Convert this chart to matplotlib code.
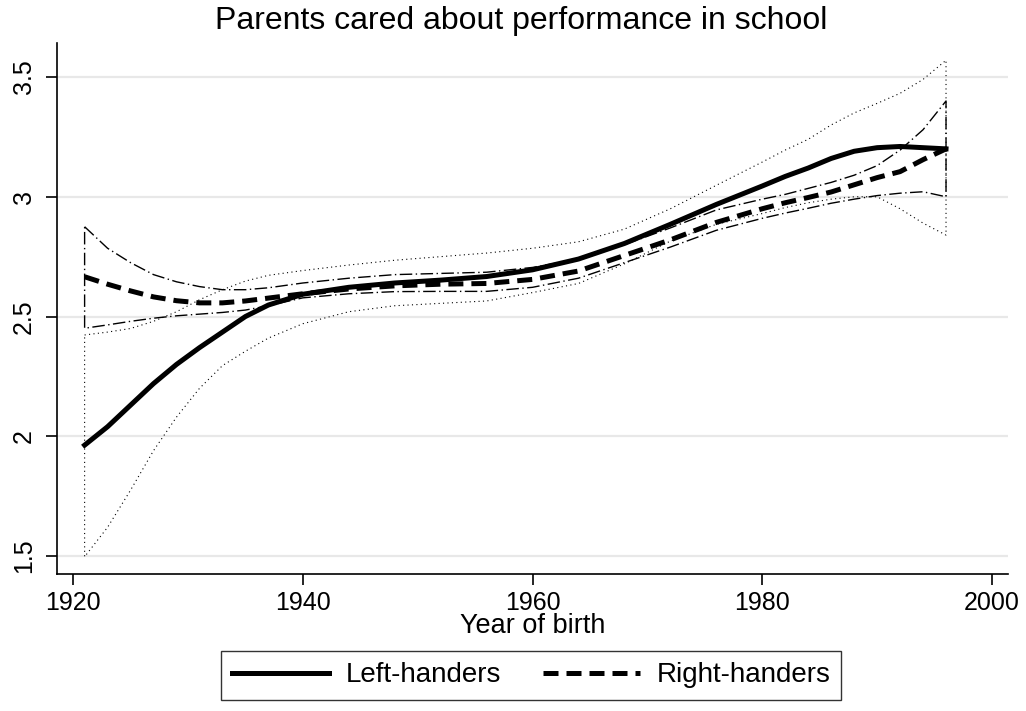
import matplotlib
matplotlib.use("Agg")
import matplotlib.pyplot as plt

plt.rcParams['font.family'] = ['Liberation Sans', 'DejaVu Sans']

# year of birth grid
years = [1921, 1923, 1925, 1927, 1929, 1931, 1933, 1935, 1937, 1940, 1944, 1948, 1952,
         1956, 1960, 1964, 1968, 1972, 1976, 1980, 1982, 1984, 1986, 1988, 1990, 1992, 1994, 1996]

# fitted means
left_mean = [1.963, 2.04, 2.13, 2.22, 2.30, 2.37, 2.435, 2.50, 2.548, 2.593, 2.622, 2.64, 2.652,
             2.667, 2.695, 2.74, 2.805, 2.885, 2.968, 3.045, 3.085, 3.12, 3.16, 3.19, 3.205, 3.21, 3.205, 3.20]
right_mean = [2.666, 2.635, 2.607, 2.582, 2.566, 2.557, 2.557, 2.565, 2.577, 2.595, 2.615, 2.628, 2.635,
              2.638, 2.655, 2.69, 2.755, 2.82, 2.893, 2.95, 2.975, 2.997, 3.02, 3.05, 3.08, 3.105, 3.155, 3.20]

# confidence bands
left_hi = [2.423, 2.435, 2.45, 2.48, 2.52, 2.57, 2.612, 2.648, 2.672, 2.692, 2.715, 2.735, 2.75,
           2.765, 2.785, 2.812, 2.865, 2.95, 3.048, 3.145, 3.195, 3.24, 3.30, 3.35, 3.39, 3.432, 3.49, 3.57]
left_lo = [1.497, 1.62, 1.775, 1.94, 2.08, 2.20, 2.295, 2.355, 2.41, 2.47, 2.52, 2.545, 2.555,
           2.565, 2.60, 2.638, 2.72, 2.815, 2.885, 2.93, 2.955, 2.975, 2.99, 3.0, 3.0, 2.95, 2.89, 2.84]
right_hi = [2.875, 2.785, 2.725, 2.675, 2.645, 2.625, 2.612, 2.612, 2.62, 2.64, 2.66, 2.675, 2.68,
            2.685, 2.705, 2.74, 2.80, 2.87, 2.945, 2.99, 3.01, 3.035, 3.06, 3.09, 3.13, 3.195, 3.28, 3.40]
right_lo = [2.451, 2.465, 2.48, 2.493, 2.503, 2.51, 2.517, 2.527, 2.545, 2.578, 2.595, 2.604, 2.605,
            2.605, 2.622, 2.66, 2.725, 2.79, 2.86, 2.91, 2.932, 2.952, 2.973, 2.99, 3.005, 3.015, 3.021, 3.0]

fig = plt.figure(figsize=(10.26, 7.11), dpi=100)
ax = fig.add_axes([0.0556, 0.1927, 0.9269, 0.7468])

# band outlines drawn as closed shapes
band_x = years + years[::-1] + years[:1]
ax.plot(band_x, left_hi + left_lo[::-1] + left_hi[:1], color='black', lw=0.8, dashes=(1, 3))
ax.plot(band_x, right_hi + right_lo[::-1] + right_hi[:1], color='black', lw=1.0, dashes=(9, 2.5, 1, 2.5))

ax.plot(years, left_mean, color='black', lw=3.6, label='Left-handers')
ax.plot(years, right_mean, color='black', lw=3.6, dashes=(3, 1.6), label='Right-handers')

ax.set_xlim(1918.6, 2001.4)
ax.set_ylim(1.425, 3.642)
ax.set_xticks([1920, 1940, 1960, 1980, 2000])
ax.set_yticks([1.5, 2, 2.5, 3, 3.5])
ax.set_yticklabels(['1.5', '2', '2.5', '3', '3.5'], rotation=90, va='center')
ax.tick_params(axis='both', labelsize=18, length=8, width=1.2, color='black')
ax.tick_params(axis='y', pad=7)
ax.tick_params(axis='x', pad=4)
ax.grid(axis='y', color='#e8e8e8', lw=1.6)
ax.set_axisbelow(True)
for s in ['top', 'right']:
    ax.spines[s].set_visible(False)
for s in ['left', 'bottom']:
    ax.spines[s].set_linewidth(1.2)

ax.set_xlabel('Year of birth', fontsize=19.5, labelpad=-1)
fig.text(521 / 1026, 1 - 21 / 711, 'Parents cared about performance in school',
         ha='center', va='center', fontsize=23)

leg = fig.legend(loc='center', bbox_to_anchor=(531 / 1026, 1 - 675.5 / 711), ncol=2,
                 fontsize=20, frameon=True, fancybox=False, edgecolor='black',
                 handlelength=3.5, columnspacing=1.5, handletextpad=0.6, borderpad=0.4)
leg.get_frame().set_linewidth(1.0)

fig.savefig('out.png', dpi=100)
